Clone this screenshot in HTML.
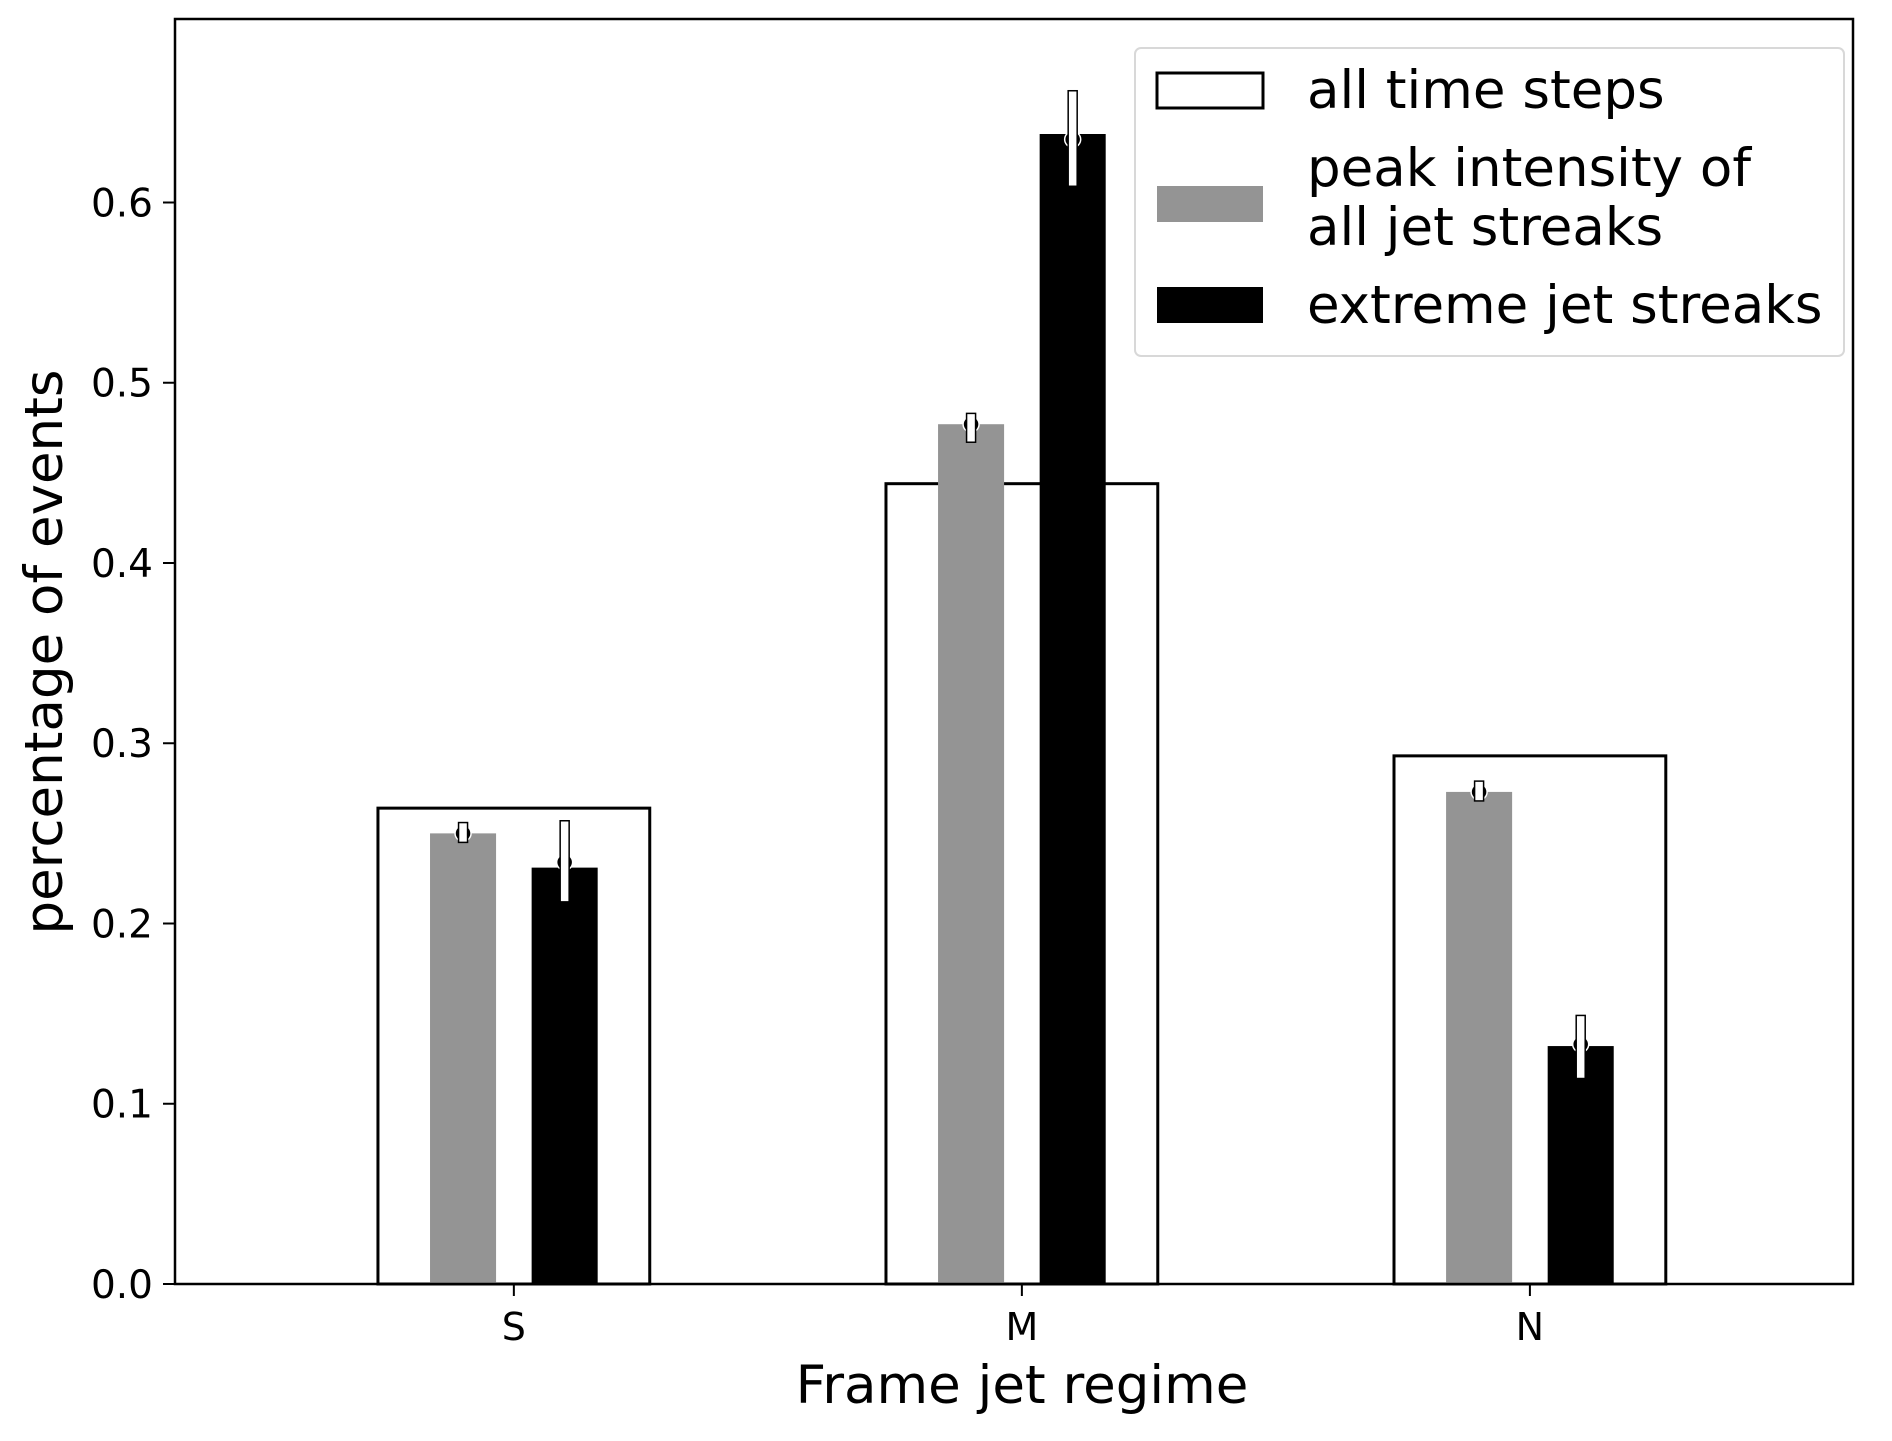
<!DOCTYPE html>
<html><head><meta charset="utf-8"><style>
html,body{margin:0;padding:0;background:#fff;}
svg text{font-family:"DejaVu Sans","Liberation Sans",sans-serif;fill:#000;}
</style></head><body>
<svg id="chart" width="1892" height="1436" viewBox="0 0 1892 1436" xmlns="http://www.w3.org/2000/svg">
<g id="bars"></g>
<g id="axes"></g>
<g id="legend">
  <rect x="1135" y="48" width="709" height="308" rx="6" fill="#fff" stroke="#d8d8d8" stroke-width="2"/>
  <rect x="1157" y="73" width="106" height="35" fill="#fff" stroke="#000" stroke-width="3"/>
  <text x="1307" y="108" font-size="53">all time steps</text>
  <rect x="1157" y="186" width="106" height="36" fill="#949494"/>
  <text x="1307" y="186" font-size="53">peak intensity of</text>
  <text x="1307" y="245" font-size="53">all jet streaks</text>
  <rect x="1157" y="287" width="106" height="36" fill="#000"/>
  <text x="1307" y="323" font-size="53">extreme jet streaks</text>
</g>
<text x="1022" y="1403" font-size="53" text-anchor="middle">Frame jet regime</text>
<text transform="translate(62,652) rotate(-90)" font-size="53" text-anchor="middle">percentage of events</text>
</svg>
<script>
const categories = ["S", "M", "N"];
const allSteps = [0.264, 0.444, 0.293];
const peakValues = [0.250, 0.477, 0.273];
const peakLow = [0.245, 0.467, 0.268];
const peakHigh = [0.256, 0.483, 0.279];
const extremeValues = [0.231, 0.638, 0.132];
const extremeMean = [0.234, 0.635, 0.133];
const extremeLow = [0.212, 0.609, 0.114];
const extremeHigh = [0.257, 0.662, 0.149];
const yTicks = [0.0, 0.1, 0.2, 0.3, 0.4, 0.5, 0.6];
const yTickLabels = ["0.0", "0.1", "0.2", "0.3", "0.4", "0.5", "0.6"];

const NS = "http://www.w3.org/2000/svg";
const L = 175, R = 1853, T = 19, B = 1284;
const xMin = -0.667, xMax = 2.636, yMin = 0, yMax = 0.7018;
function xs(v){ return L + (v - xMin) / (xMax - xMin) * (R - L); }
function ys(v){ return B - (v - yMin) / (yMax - yMin) * (B - T); }
function mk(tag, attrs, parent){
  const e = document.createElementNS(NS, tag);
  for (const k in attrs) e.setAttribute(k, attrs[k]);
  parent.appendChild(e);
  return e;
}
const bars = document.getElementById('bars');
const axes = document.getElementById('axes');

categories.forEach((c, i) => {
  const w = 0.535;
  let r = mk('rect', {x: xs(i - w/2), y: ys(allSteps[i]), width: xs(i + w/2) - xs(i - w/2), height: ys(0) - ys(allSteps[i]), fill: '#fff', stroke: '#000', 'stroke-width': 3}, bars);
  
  
  const bw = 0.13;
  r = mk('rect', {x: xs(i - 0.1 - bw/2), y: ys(peakValues[i]), width: xs(bw) - xs(0), height: ys(0) - ys(peakValues[i]), fill: '#949494'}, bars);
  
  
  r = mk('rect', {x: xs(i + 0.1 - bw/2), y: ys(extremeValues[i]), width: xs(bw) - xs(0), height: ys(0) - ys(extremeValues[i]), fill: '#000'}, bars);
  
  
  const groups = [[i - 0.1, peakValues[i], peakLow[i], peakHigh[i], 'peak'], [i + 0.1, extremeMean[i], extremeLow[i], extremeHigh[i], 'extreme']];
  groups.forEach(g => {
    const cx = xs(g[0]);
    const m = mk('circle', {cx: cx, cy: ys(g[1]), r: 8, fill: '#000', stroke: '#fff', 'stroke-width': 1.5}, bars);
    
    
    const eb = mk('rect', {x: cx - 4.5, y: ys(g[3]), width: 9, height: ys(g[2]) - ys(g[3]), fill: '#fff', stroke: '#000', 'stroke-width': 1.5}, bars);
    
    
  });
  const t = mk('line', {x1: xs(i), x2: xs(i), y1: B, y2: B + 12, stroke: '#000', 'stroke-width': 2}, axes);
  
  
  const tl = mk('text', {x: xs(i), y: 1340, 'font-size': 38, 'text-anchor': 'middle'}, axes);
  tl.textContent = c;
  
  
});
yTicks.forEach((v, k) => {
  const t = mk('line', {x1: L - 12, x2: L, y1: ys(v), y2: ys(v), stroke: '#000', 'stroke-width': 2}, axes);
  
  
  const tl = mk('text', {x: L - 22, y: ys(v) + 14, 'font-size': 39, 'text-anchor': 'end'}, axes);
  tl.textContent = yTickLabels[k];
  
  
});
const frame = mk('rect', {x: L, y: T, width: R - L, height: B - T, fill: 'none', stroke: '#000', 'stroke-width': 2.5}, axes);


</script>
</body></html>
